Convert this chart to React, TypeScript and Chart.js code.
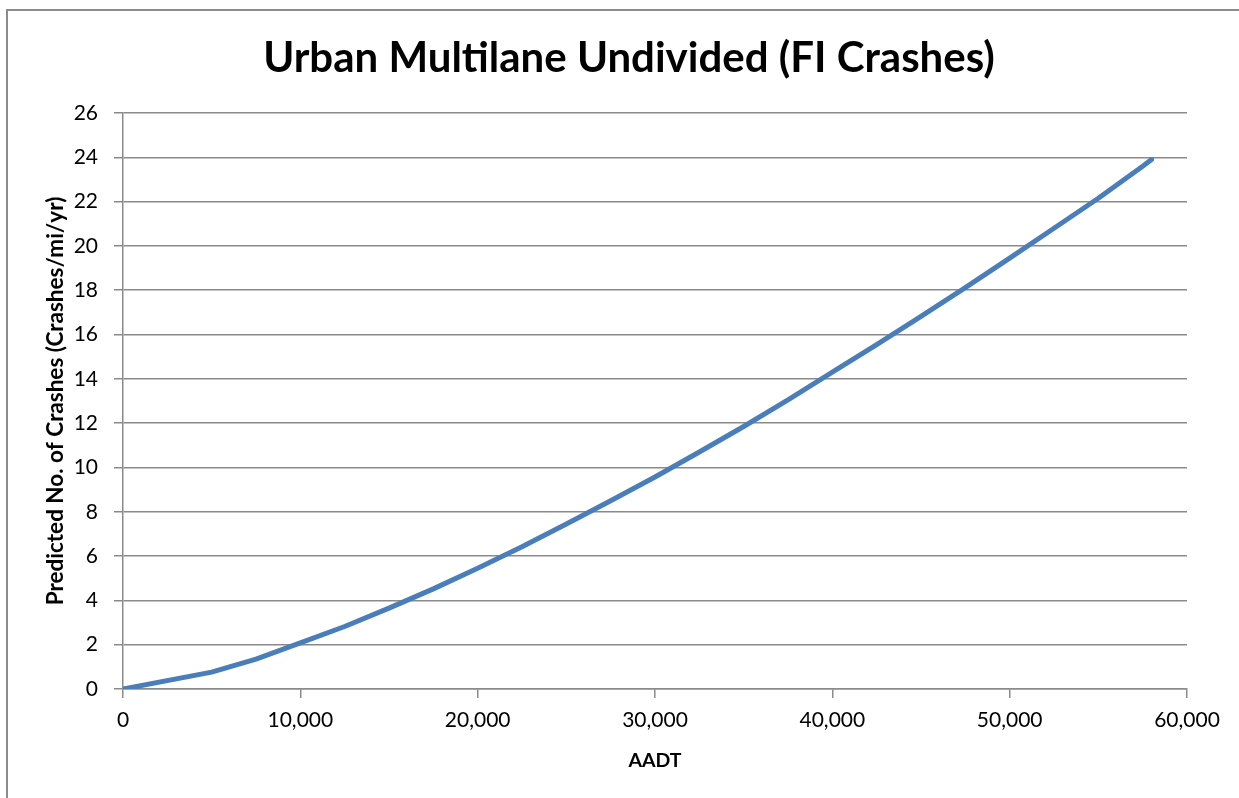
import React, { useEffect, useRef } from "react";
import { Chart, registerables } from "chart.js";

Chart.register(...registerables);

const aadt = [0, 5000, 7500, 10000, 12500, 15000, 17500, 20000, 22500, 25000, 27500, 30000, 32500, 35000, 37500, 40000, 42500, 45000, 47500, 50000, 52500, 55000, 57500, 58000];
const predictedCrashes = [0, 0.76, 1.35, 2.08, 2.82, 3.65, 4.52, 5.45, 6.42, 7.45, 8.5, 9.57, 10.7, 11.85, 13.05, 14.3, 15.55, 16.82, 18.12, 19.45, 20.8, 22.15, 23.6, 23.9];

const titleText = "Urban Multilane Undivided (FI Crashes)";
const xTitle = "AADT";
const yTitle = "Predicted No. of Crashes (Crashes/mi/yr)";
const FONT = "Lato, 'Open Sans', sans-serif";

const framePlugin = {
  id: "frame",
  beforeDraw(chart: any) {
    const ctx = chart.ctx;
    ctx.save();
    ctx.fillStyle = "#ffffff";
    ctx.fillRect(0, 0, chart.width, chart.height);
    ctx.strokeStyle = "#8c8c8c";
    ctx.lineWidth = 2;
    ctx.strokeRect(7, 10, 1400, 1000);
    ctx.restore();
  },
};

export default function App() {
  const ref = useRef<HTMLCanvasElement | null>(null);
  useEffect(() => {
    if (!ref.current) return;
    const chart = new Chart(ref.current, {
      type: "line",
      data: {
        datasets: [
          {
            data: aadt.map((x, i) => ({ x, y: predictedCrashes[i] })),
            borderColor: "#4a7ebb",
            borderWidth: 5,
            pointRadius: 0,
            tension: 0,
            borderCapStyle: "round",
            borderJoinStyle: "round",
          },
        ],
      },
      options: {
        animation: false,
        responsive: false,
        layout: { padding: { top: 0, left: 19, right: 0, bottom: 0 } },
        plugins: {
          legend: { display: false },
          tooltip: { enabled: false },
          title: {
            display: true,
            text: titleText,
            color: "#000",
            font: { family: FONT, size: 42, weight: "bold", lineHeight: 1.2 },
            padding: { top: 33.3, bottom: 29.3 },
          },
        },
        scales: {
          x: {
            type: "linear",
            min: 0,
            max: 60000,
            ticks: {
              stepSize: 10000,
              color: "#000",
              padding: 10,
              font: { family: FONT, size: 21 },
              callback: (v: any) => Number(v).toLocaleString("en-US"),
              maxRotation: 0,
            },
            grid: { drawOnChartArea: false, drawTicks: true, tickLength: 9, color: "#8a8a8a", lineWidth: 1.5 },
            border: { display: true, color: "#8a8a8a", width: 1.5 },
            title: {
              display: true,
              text: xTitle,
              color: "#000",
              font: { family: FONT, size: 19.5, weight: "bold", lineHeight: 1.2 },
              padding: { top: 0, bottom: 25.3 },
            },
            afterFit: (s: any) => {
              s.height = 109;
            },
          },
          y: {
            min: 0,
            max: 26,
            ticks: {
              stepSize: 2,
              color: "#000",
              padding: 16,
              font: { family: FONT, size: 21 },
            },
            grid: { drawTicks: true, tickLength: 9, color: "#8a8a8a", lineWidth: 1.5 },
            border: { display: true, color: "#8a8a8a", width: 1.5 },
            title: {
              display: true,
              text: yTitle,
              color: "#000",
              font: { family: FONT, size: 22.5, weight: "bold", lineHeight: 1.2 },
              padding: { top: 23.5, bottom: 0 },
            },
            afterFit: (s: any) => {
              s.width = 104;
            },
          },
          yR: {
            type: "linear",
            position: "right",
            display: true,
            ticks: { display: false },
            grid: { display: false, drawTicks: false },
            border: { display: false },
            afterFit: (s: any) => {
              s.width = 52;
            },
          },
        },
      },
      plugins: [framePlugin],
    });
    return () => chart.destroy();
  }, []);
  return (
    <div style={{ position: "fixed", left: 0, top: 0, width: 1239, height: 798, background: "#fff" }}>
      <canvas ref={ref} width={1239} height={798} style={{ display: "block", width: 1239, height: 798 }} />
    </div>
  );
}
